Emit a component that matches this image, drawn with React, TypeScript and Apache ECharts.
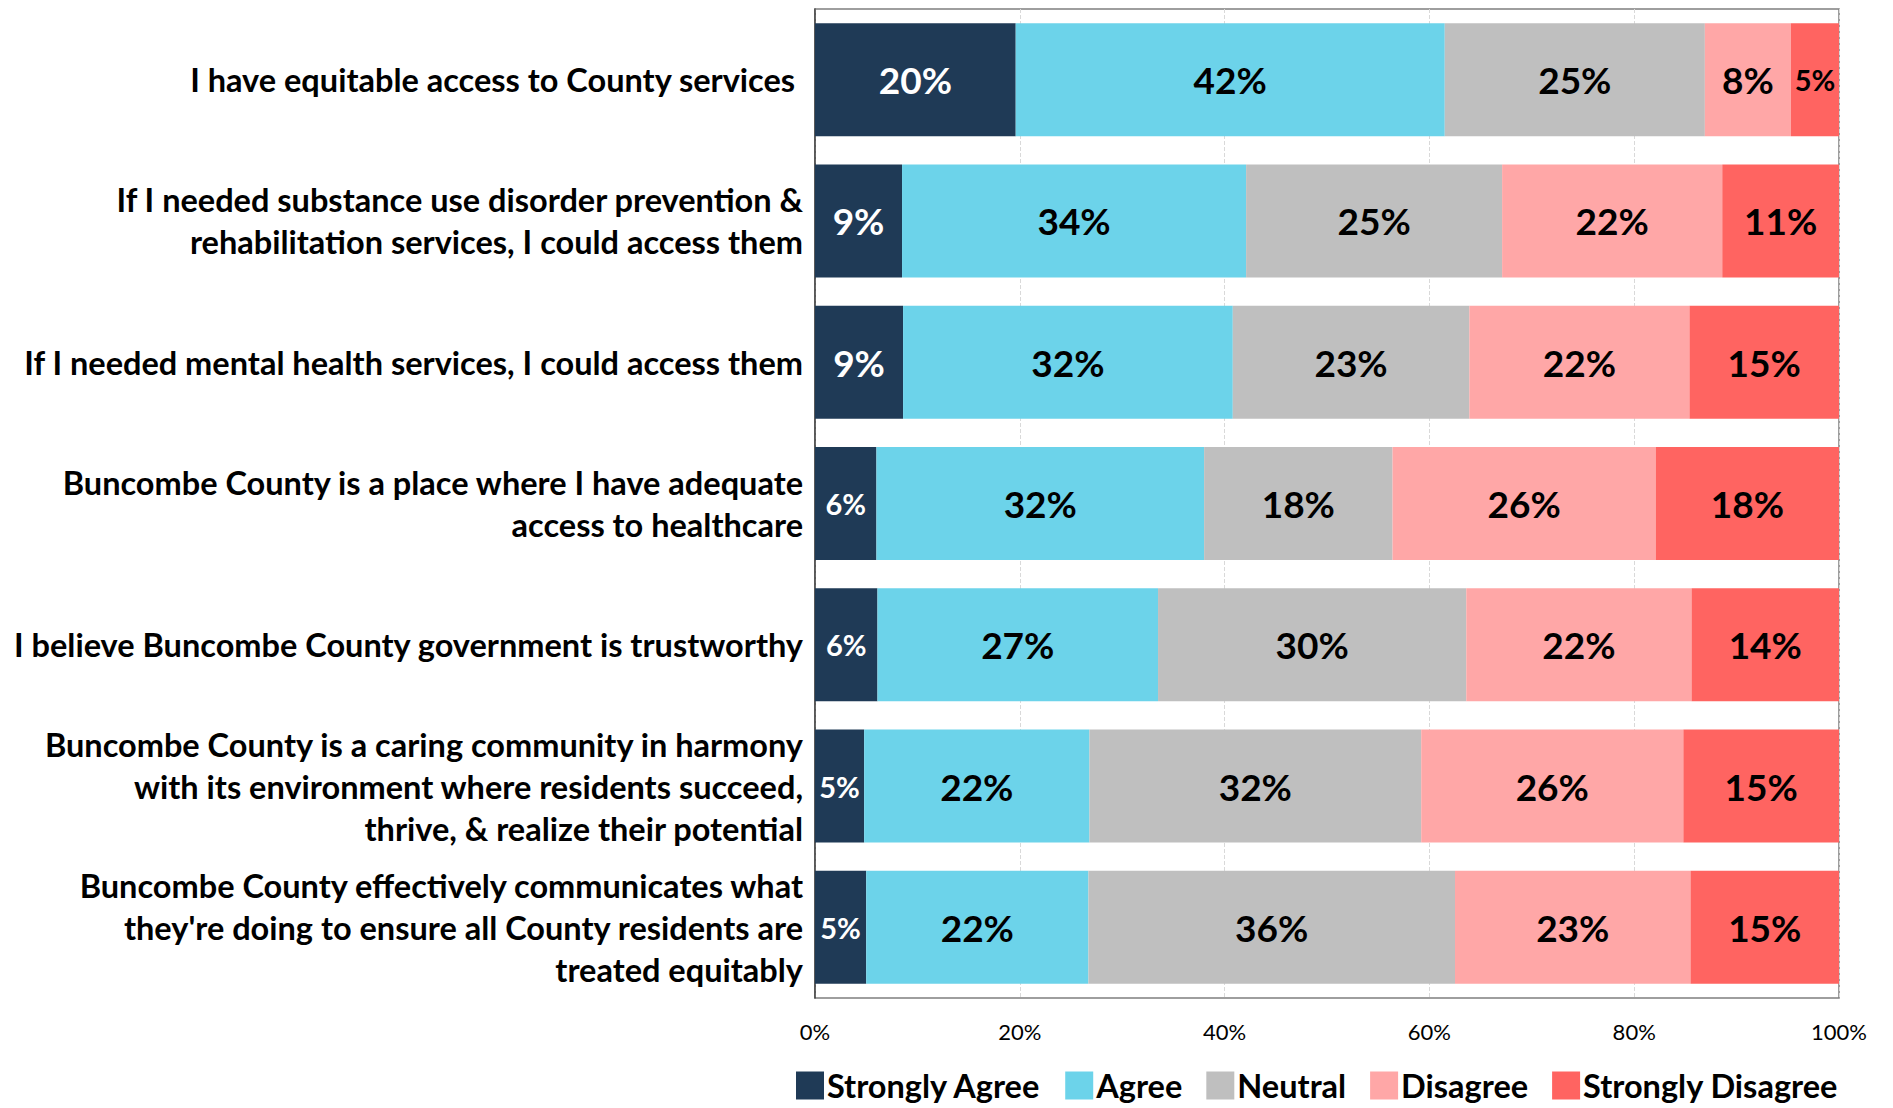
import React, { useEffect, useRef } from "react";
import * as echarts from "echarts";

const categories: string[] = [
  "I have equitable access to County services ",
  "If I needed substance use disorder prevention &\nrehabilitation services, I could access them",
  "If I needed mental health services, I could access them",
  "Buncombe County is a place where I have adequate\naccess to healthcare",
  "I believe Buncombe County government is trustworthy",
  "Buncombe County is a caring community in harmony\nwith its environment where residents succeed,\nthrive, & realize their potential",
  "Buncombe County effectively communicates what\nthey're doing to ensure all County residents are\ntreated equitably",
];

const seriesNames: string[] = ["Strongly Agree", "Agree", "Neutral", "Disagree", "Strongly Disagree"];

const stronglyAgree: number[] = [19.6, 8.5, 8.6, 6.0, 6.1, 4.8, 5.0];
const agree: number[] = [41.9, 33.6, 32.2, 32.0, 27.4, 22.0, 21.7];
const neutral: number[] = [25.4, 25.0, 23.1, 18.4, 30.1, 32.4, 35.8];
const disagree: number[] = [8.4, 21.5, 21.5, 25.7, 22.0, 25.6, 23.0];
const stronglyDisagree: number[] = [4.7, 11.4, 14.6, 17.9, 14.4, 15.2, 14.5];

const xTicks: number[] = [0, 20, 40, 60, 80, 100];

const colors: string[] = ["#1F3A56", "#6CD3EA", "#BFBFBF", "#FFA7A7", "#FF6461"];
const labelColors: string[] = ["#FFFFFF", "#000000", "#000000", "#000000", "#000000"];

const FONT = "Lato, 'Noto Sans', sans-serif";

export default function App() {
  const ref = useRef<HTMLDivElement>(null);

  useEffect(() => {
    document.body.style.margin = "0";
    if (!ref.current) return;
    const chart = echarts.init(ref.current, null, { renderer: "svg" });
    const allValues = [stronglyAgree, agree, neutral, disagree, stronglyDisagree];

    const series = allValues.map((vals, i) => ({
      name: seriesNames[i],
      type: "bar",
      stack: "total",
      barWidth: "80%",
      itemStyle: { color: colors[i] },
      label: {
        show: true,
        position: "inside",
        color: labelColors[i],
        fontFamily: FONT,
        fontWeight: "bold",
        fontSize: 37,
        formatter: (p: any) => Math.round(p.value) + "%",
      },
      data: vals.map((v) => (v < 7 ? { value: v, label: { fontSize: 29 } } : { value: v })),
    }));

    chart.setOption({
      animation: false,
      textStyle: { fontFamily: FONT },
      grid: {
        left: 815,
        right: 54,
        top: 9,
        bottom: 110,
        show: true,
        borderColor: "#7F7F7F",
        borderWidth: 1.5,
        backgroundColor: "transparent",
      },
      legend: {
        data: seriesNames,
        bottom: 1,
        left: 791,
        itemWidth: 28,
        itemHeight: 28,
        itemGap: 24,
        icon: "rect",
        textStyle: { fontFamily: FONT, fontWeight: "bold", fontSize: 32.5, color: "#000", padding: [0, 0, 0, -2] },
      },
      xAxis: {
        type: "value",
        min: xTicks[0],
        max: xTicks[xTicks.length - 1],
        interval: 20,
        axisLine: { show: false },
        axisTick: { show: false },
        axisLabel: { formatter: "{value}%", fontSize: 22, color: "#000", margin: 22, fontFamily: FONT },
        splitLine: { show: true, lineStyle: { type: "dashed", color: "#D9D9D9", width: 1 } },
      },
      yAxis: {
        type: "category",
        inverse: true,
        data: categories,
        axisTick: { show: false },
        axisLine: { show: true, lineStyle: { color: "#404040", width: 1.5 } },
        axisLabel: {
          fontFamily: FONT,
          fontWeight: "bold",
          fontSize: 32.5,
          lineHeight: 42,
          color: "#000",
          margin: 12,
          align: "right",
        },
      },
      series,
    });
    return () => chart.dispose();
  }, []);

  return <div ref={ref} style={{ width: 1893, height: 1108 }} />;
}
